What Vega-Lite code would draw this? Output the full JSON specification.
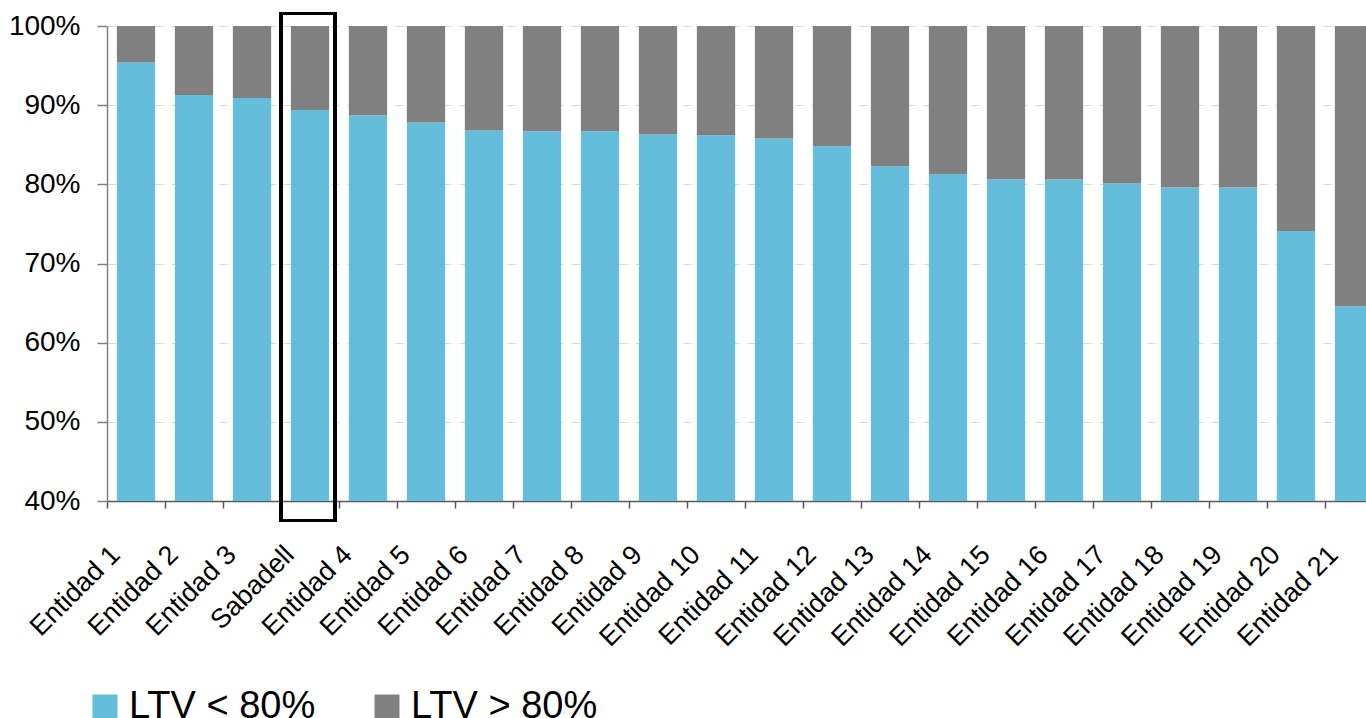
{
  "$schema": "https://vega.github.io/schema/vega-lite/v6.json",
  "autosize": {"type": "none"},
  "padding": {"left": 107, "top": 26, "right": 0, "bottom": 217},
  "width": 1259,
  "height": 475,
  "background": "white",
  "config": {
    "view": {"stroke": null},
    "font": "Liberation Sans"
  },
  "data": {
    "values": [
      {"entidad": "Entidad 1", "serie": "LTV < 80%", "valor": 0.954},
      {"entidad": "Entidad 1", "serie": "LTV > 80%", "valor": 0.046},
      {"entidad": "Entidad 2", "serie": "LTV < 80%", "valor": 0.913},
      {"entidad": "Entidad 2", "serie": "LTV > 80%", "valor": 0.087},
      {"entidad": "Entidad 3", "serie": "LTV < 80%", "valor": 0.909},
      {"entidad": "Entidad 3", "serie": "LTV > 80%", "valor": 0.091},
      {"entidad": "Sabadell", "serie": "LTV < 80%", "valor": 0.894},
      {"entidad": "Sabadell", "serie": "LTV > 80%", "valor": 0.106},
      {"entidad": "Entidad 4", "serie": "LTV < 80%", "valor": 0.887},
      {"entidad": "Entidad 4", "serie": "LTV > 80%", "valor": 0.113},
      {"entidad": "Entidad 5", "serie": "LTV < 80%", "valor": 0.878},
      {"entidad": "Entidad 5", "serie": "LTV > 80%", "valor": 0.122},
      {"entidad": "Entidad 6", "serie": "LTV < 80%", "valor": 0.868},
      {"entidad": "Entidad 6", "serie": "LTV > 80%", "valor": 0.132},
      {"entidad": "Entidad 7", "serie": "LTV < 80%", "valor": 0.867},
      {"entidad": "Entidad 7", "serie": "LTV > 80%", "valor": 0.133},
      {"entidad": "Entidad 8", "serie": "LTV < 80%", "valor": 0.867},
      {"entidad": "Entidad 8", "serie": "LTV > 80%", "valor": 0.133},
      {"entidad": "Entidad 9", "serie": "LTV < 80%", "valor": 0.863},
      {"entidad": "Entidad 9", "serie": "LTV > 80%", "valor": 0.137},
      {"entidad": "Entidad 10", "serie": "LTV < 80%", "valor": 0.862},
      {"entidad": "Entidad 10", "serie": "LTV > 80%", "valor": 0.138},
      {"entidad": "Entidad 11", "serie": "LTV < 80%", "valor": 0.858},
      {"entidad": "Entidad 11", "serie": "LTV > 80%", "valor": 0.142},
      {"entidad": "Entidad 12", "serie": "LTV < 80%", "valor": 0.848},
      {"entidad": "Entidad 12", "serie": "LTV > 80%", "valor": 0.152},
      {"entidad": "Entidad 13", "serie": "LTV < 80%", "valor": 0.823},
      {"entidad": "Entidad 13", "serie": "LTV > 80%", "valor": 0.177},
      {"entidad": "Entidad 14", "serie": "LTV < 80%", "valor": 0.813},
      {"entidad": "Entidad 14", "serie": "LTV > 80%", "valor": 0.187},
      {"entidad": "Entidad 15", "serie": "LTV < 80%", "valor": 0.806},
      {"entidad": "Entidad 15", "serie": "LTV > 80%", "valor": 0.194},
      {"entidad": "Entidad 16", "serie": "LTV < 80%", "valor": 0.806},
      {"entidad": "Entidad 16", "serie": "LTV > 80%", "valor": 0.194},
      {"entidad": "Entidad 17", "serie": "LTV < 80%", "valor": 0.801},
      {"entidad": "Entidad 17", "serie": "LTV > 80%", "valor": 0.199},
      {"entidad": "Entidad 18", "serie": "LTV < 80%", "valor": 0.796},
      {"entidad": "Entidad 18", "serie": "LTV > 80%", "valor": 0.204},
      {"entidad": "Entidad 19", "serie": "LTV < 80%", "valor": 0.796},
      {"entidad": "Entidad 19", "serie": "LTV > 80%", "valor": 0.204},
      {"entidad": "Entidad 20", "serie": "LTV < 80%", "valor": 0.741},
      {"entidad": "Entidad 20", "serie": "LTV > 80%", "valor": 0.259},
      {"entidad": "Entidad 21", "serie": "LTV < 80%", "valor": 0.646},
      {"entidad": "Entidad 21", "serie": "LTV > 80%", "valor": 0.354}
    ]
  },
  "layer": [
    {
      "mark": {"type": "bar", "clip": true},
      "encoding": {
        "x": {
          "field": "entidad",
          "type": "nominal",
          "sort": null,
          "scale": {"range": [0, 1276], "paddingInner": 0.34, "paddingOuter": 0.17},
          "axis": {
            "title": null,
            "tickOffset": -29,
            "labelOffset": 14,
            "labelAngle": -45,
            "labelAlign": "right",
            "labelBaseline": "alphabetic",
            "labelFontSize": 27,
            "labelColor": "black",
            "labelPadding": 48,
            "labelLimit": 300,
            "tickSize": 7,
            "tickColor": "#595959",
            "tickWidth": 1.5,
            "domainColor": "#595959",
            "domainWidth": 1.5,
            "grid": false
          }
        },
        "y": {
          "field": "valor",
          "type": "quantitative",
          "stack": "zero",
          "scale": {"domain": [0.4, 1], "nice": false, "zero": false},
          "axis": {
            "title": null,
            "values": [0.4, 0.5, 0.6, 0.7, 0.8, 0.9, 1.0],
            "format": ".0%",
            "labelFontSize": 28,
            "labelColor": "black",
            "labelPadding": 17,
            "tickSize": 10,
            "tickColor": "#808080",
            "tickWidth": 1.5,
            "domainColor": "#808080",
            "domainWidth": 1.5,
            "grid": true,
            "gridColor": "#d9d9d9",
            "gridDash": [8, 8],
            "gridWidth": 1
          }
        },
        "color": {
          "field": "serie",
          "type": "nominal",
          "scale": {"domain": ["LTV < 80%", "LTV > 80%"], "range": ["#64BDDB", "#808080"]},
          "legend": {
            "title": null,
            "orient": "none",
            "direction": "horizontal",
            "legendX": -21,
            "legendY": 662,
            "symbolType": "square",
            "symbolSize": 625,
            "symbolStrokeWidth": 0,
            "symbolOpacity": 1,
            "labelFontSize": 38,
            "labelColor": "black",
            "labelOffset": 5,
            "labelLimit": 400,
            "columnPadding": 52
          }
        },
        "order": {"field": "serie", "sort": "ascending"}
      }
    },
    {
      "mark": {"type": "bar", "filled": false, "stroke": "black", "strokeWidth": 2.5, "width": 54, "xOffset": -2, "clip": false},
      "encoding": {
        "x": {"datum": "Sabadell", "type": "nominal"},
        "y": {"datum": 1.016, "type": "quantitative"},
        "y2": {"datum": 0.375}
      }
    }
  ]
}
